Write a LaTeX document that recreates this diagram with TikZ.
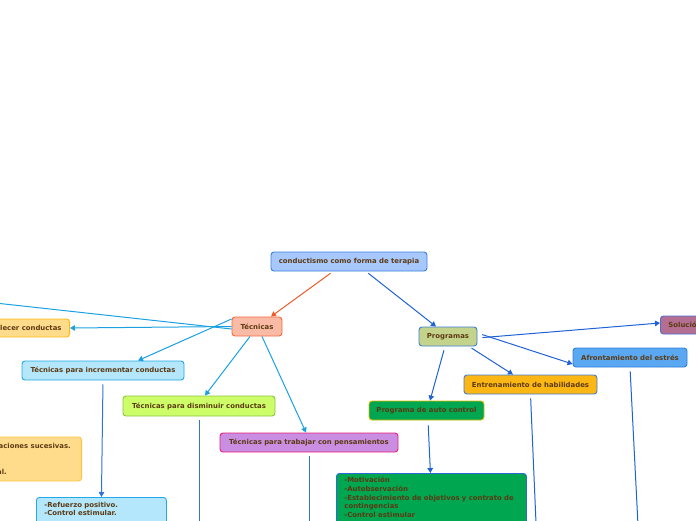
\documentclass[tikz,border=0pt]{standalone}
\usepackage{fontspec}
\setmainfont{DejaVu Sans}
\usetikzlibrary{arrows.meta}
\definecolor{txt}{HTML}{5C3A12}
\definecolor{rootF}{HTML}{A7C8FD}\definecolor{rootD}{HTML}{3B7FDD}
\definecolor{tecF}{HTML}{F9BBA5}\definecolor{tecD}{HTML}{F26A3C}
\definecolor{progF}{HTML}{C4D38C}\definecolor{progD}{HTML}{3D7ED8}
\definecolor{solF}{HTML}{B46E92}\definecolor{solD}{HTML}{4E6FD0}
\definecolor{afrF}{HTML}{5AA8F2}\definecolor{afrD}{HTML}{2F7EDB}
\definecolor{entF}{HTML}{FDB714}\definecolor{entD}{HTML}{3C7ED8}
\definecolor{grnF}{HTML}{00A650}\definecolor{autoD}{HTML}{E4BC00}\definecolor{grnD}{HTML}{2A6BD6}
\definecolor{yelF}{HTML}{FFDC8C}\definecolor{yelD}{HTML}{FFB80F}\definecolor{yelD2}{HTML}{FFC43F}
\definecolor{cyaF}{HTML}{B4E6FC}\definecolor{cyaD}{HTML}{22A8E8}
\definecolor{limF}{HTML}{CDFE6A}\definecolor{limD}{HTML}{8CC43E}
\definecolor{pnkF}{HTML}{C98DE1}\definecolor{pnkD}{HTML}{EA1E7B}
\definecolor{lnOr}{HTML}{F05A28}
\definecolor{lnBl}{HTML}{1F62D3}
\definecolor{lnCy}{HTML}{1BA1E2}
\definecolor{lnMd}{HTML}{2F74DE}
\begin{document}
\begin{tikzpicture}[x=1pt,y=-1pt,
  box/.style={draw, rounded corners=3pt, line width=0.9pt, inner sep=0pt,
    minimum height=19pt, font=\bfseries\fontsize{6.9}{8.6}\selectfont, text=txt},
  multi/.style={box, align=left, inner xsep=8pt, inner ysep=4pt, anchor=north west},
  frag/.style={font=\bfseries\fontsize{6.9}{8.6}\selectfont, text=txt, inner sep=0pt, anchor=base east},
  conn/.style={line width=1pt, -{Triangle[length=5pt,width=5.5pt]}},
  plain/.style={line width=1pt}
]
\useasboundingbox (0,0) rectangle (696,520);
\clip (0,0) rectangle (696,520);

% nodes
\node[box, fill=rootF, draw=rootD, minimum width=156pt] (root) at (349,261.5) {conductismo como forma de terapia};
\node[box, fill=tecF, draw=tecD, minimum width=50pt] (tec) at (257,326.5) {Técnicas};
\node[box, fill=progF, draw=progD, minimum width=58pt] (prog) at (448,336.5) {Programas};
\node[box, fill=solF, draw=solD, minimum width=120pt, minimum height=18pt, anchor=west, inner xsep=8pt, text width=104pt, align=left] (sol) at (660,325) {Solución de problemas};
\node[box, fill=afrF, draw=afrD, minimum width=114pt] (afr) at (630,357.5) {Afrontamiento del estrés};
\node[box, fill=entF, draw=entD, minimum width=133pt] (ent) at (530.5,384.5) {Entrenamiento de habilidades};
\node[box, fill=grnF, draw=autoD, minimum width=115pt] (auto) at (426.5,410.5) {Programa de auto control};
\node[multi, fill=grnF, draw=grnD, text width=174pt] (grn) at (336,473) {-Motivación\\-Autobservación\\-Establecimiento de objetivos y contrato de\\contingencias\\-Control estimular\\~\\~\\~\\~};
\node[box, fill=yelF, draw=yelD, minimum height=18pt, anchor=east, inner xsep=8pt] (est) at (70,328) {Técnicas para establecer conductas};
\node[box, fill=cyaF, draw=cyaD, minimum width=162pt] (inc) at (103,370.5) {Técnicas para incrementar conductas};
\node[box, fill=limF, draw=limD, minimum width=152pt, minimum height=20pt] (dis) at (199,406) {Técnicas para disminuir conductas};
\node[box, fill=pnkF, draw=pnkD, minimum width=178pt] (pen) at (309,442.5) {Técnicas para trabajar con pensamientos};
\node[box, fill=yelF, draw=yelD2, minimum width=160pt, minimum height=44pt, anchor=east] (yel) at (82,459) {};
\node[frag] (yelA) at (71,448.5) {aciones sucesivas.};
\node[frag] (yelB) at (7,474.3) {al.};
\node[multi, fill=cyaF, draw=cyaD, text width=114pt, inner ysep=4.5pt] (ref) at (36,497) {-Refuerzo positivo.\\-Control estimular.\\~\\~\\~};

% off-canvas ends
\coordinate (offA) at (-100,292.5);
\coordinate (disE) at (199,600);
\coordinate (penE) at (309,600);
\coordinate (entE) at (539.3,600);
\coordinate (afrE) at (641.8,600);

% connectors
\draw[conn, lnOr, shorten <=3pt] ([xshift=-16pt]root.south) -- ([xshift=14pt]tec.north);
\draw[conn, lnBl, shorten <=3pt] ([xshift=17pt]root.south) -- ([xshift=-12pt]prog.north);

\draw[conn, lnCy] (tec.west) -- (est.east);
\draw[plain, lnCy] ([yshift=-2.5pt]tec.west) -- (offA);
\draw[conn, lnCy] ([yshift=7.5pt]tec.west) -- ([xshift=35pt]inc.north);
\draw[conn, lnCy] ([xshift=-7pt]tec.south) -- ([xshift=6pt]dis.north);
\draw[conn, lnCy] ([xshift=5pt]tec.south) -- ([xshift=-3pt]pen.north);

\draw[conn, lnMd, shorten <=4pt] (inc.south) -- (ref.north);
\draw[plain, lnMd, shorten <=4pt] (dis.south) -- (disE);
\draw[plain, lnMd, shorten <=4pt] (pen.south) -- (penE);

\draw[conn, lnBl, shorten <=5pt] ([yshift=-1.5pt]prog.east) -- ([yshift=2pt]sol.west);
\draw[conn, lnBl, shorten <=5pt] ([yshift=3.5pt]prog.east) -- ([yshift=-6.5pt]afr.west);
\draw[conn, lnBl, shorten <=3pt] ([xshift=21pt]prog.south) -- ([xshift=-17.5pt]ent.north);
\draw[conn, lnBl, shorten <=4pt] ([xshift=-3pt]prog.south) -- ([xshift=3.5pt]auto.north);
\draw[conn, lnBl, shorten <=5pt] ([xshift=1.5pt]auto.south) -- ([xshift=-1pt]grn.north);
\draw[plain, lnBl, shorten <=4pt] (ent.south) -- (entE);
\draw[plain, lnBl, shorten <=4pt] (afr.south) -- (afrE);
\end{tikzpicture}
\end{document}
